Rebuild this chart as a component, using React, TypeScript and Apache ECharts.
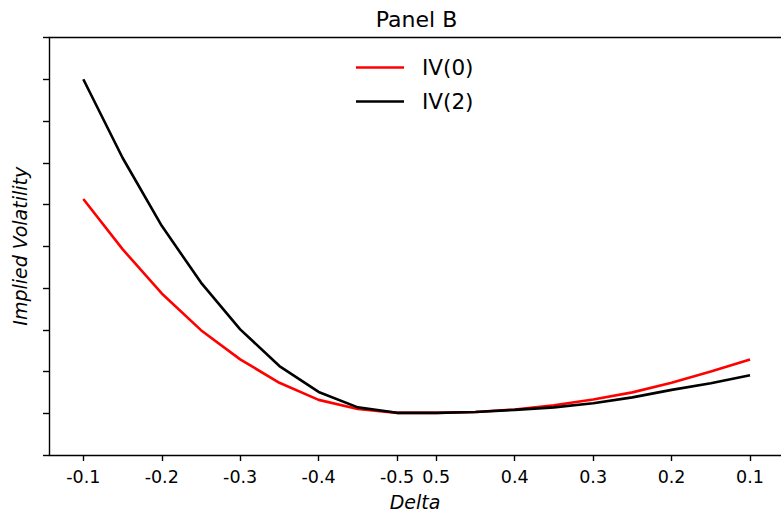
import React, { useEffect, useRef } from "react";
import * as echarts from "echarts";

// Delta categories along the x axis (index positions 0..17)
const deltas = [
  "-0.1", "-0.15", "-0.2", "-0.25", "-0.3", "-0.35", "-0.4", "-0.45", "-0.5",
  "0.5", "0.45", "0.4", "0.35", "0.3", "0.25", "0.2", "0.15", "0.1",
];
// indices of categories that carry a tick label
const tickIndices = [0, 2, 4, 6, 8, 9, 11, 13, 15, 17];

const iv0 = [
  6.13, 4.93, 3.87, 2.99, 2.29, 1.73, 1.32, 1.1, 1.01,
  1.01, 1.03, 1.09, 1.19, 1.33, 1.5, 1.73, 2.0, 2.29,
];
const iv2 = [
  9.0, 7.12, 5.49, 4.13, 3.01, 2.13, 1.51, 1.14, 1.01,
  1.01, 1.03, 1.08, 1.14, 1.24, 1.38, 1.56, 1.72, 1.91,
];

const seriesNames = ["IV(0)", "IV(2)"];
const seriesColors = ["#ff0000", "#000000"];

export default function App() {
  const ref = useRef<HTMLDivElement>(null);

  useEffect(() => {
    if (!ref.current) return;
    const chart = echarts.init(ref.current, undefined, { renderer: "svg" });
    const font = "DejaVu Sans";
    const xMin = -0.875;
    const xMax = 17.79;
    const toPairs = (arr: number[]) => arr.map((v, i) => [i, v]);

    chart.setOption({
      animation: false,
      backgroundColor: "#ffffff",
      title: {
        text: "Panel B",
        left: 416.5,
        top: 8,
        textAlign: "center",
        padding: 0,
        textStyle: { fontFamily: font, fontSize: 22, fontWeight: "normal", color: "#000" },
      },
      legend: {
        orient: "vertical",
        left: 356,
        top: 56.5,
        padding: 0,
        itemWidth: 48,
        itemHeight: 14,
        itemGap: 12,
        icon: "path://M0,0L48,0L48,2.6L0,2.6Z",
        data: seriesNames,
        textStyle: { fontFamily: font, fontSize: 21.5, color: "#000", padding: [0, 0, 0, 13] },
      },
      grid: {
        left: 49,
        right: 0,
        top: 37.5,
        bottom: 56,
        containLabel: false,
        outerBoundsMode: "none",
      },
      xAxis: [
        {
          type: "value",
          min: xMin,
          max: xMax,
          name: "Delta",
          nameLocation: "middle",
          nameGap: 37,
          nameTextStyle: { fontFamily: font, fontSize: 19, fontStyle: "italic", color: "#000" },
          axisLine: { show: true, onZero: false, lineStyle: { color: "#000", width: 1.4 } },
          axisTick: {
            show: true,
            length: 6,
            lineStyle: { color: "#000", width: 1.4 },
            customValues: tickIndices,
          },
          axisLabel: {
            show: true,
            margin: 13,
            fontFamily: font,
            fontSize: 17.5,
            color: "#000",
            customValues: tickIndices,
            formatter: (v: number) => deltas[Math.round(v)] ?? "",
          },
          splitLine: { show: false },
        },
        {
          type: "value",
          position: "top",
          min: xMin,
          max: xMax,
          axisLine: { show: true, onZero: false, lineStyle: { color: "#000", width: 1.4 } },
          axisTick: { show: false },
          axisLabel: { show: false },
          splitLine: { show: false },
        },
      ],
      yAxis: {
        type: "value",
        min: 0,
        max: 10,
        interval: 1,
        name: "Implied Volatility",
        nameLocation: "middle",
        nameRotate: 90,
        nameGap: 20,
        nameTextStyle: { fontFamily: font, fontSize: 19, fontStyle: "italic", color: "#000" },
        axisLine: { show: true, onZero: false, lineStyle: { color: "#000", width: 1.4 } },
        axisTick: { show: true, length: 6, lineStyle: { color: "#000", width: 1.4 } },
        axisLabel: { show: false },
        splitLine: { show: false },
      },
      series: [iv0, iv2].map((arr, i) => ({
        name: seriesNames[i],
        type: "line",
        xAxisIndex: 0,
        data: toPairs(arr),
        symbol: "none",
        lineStyle: { color: seriesColors[i], width: 2.6 },
        itemStyle: { color: seriesColors[i] },
      })),
    });

    return () => chart.dispose();
  }, []);

  return (
    <div
      ref={ref}
      style={{ position: "fixed", left: 0, top: 0, width: 781, height: 511 }}
    />
  );
}
